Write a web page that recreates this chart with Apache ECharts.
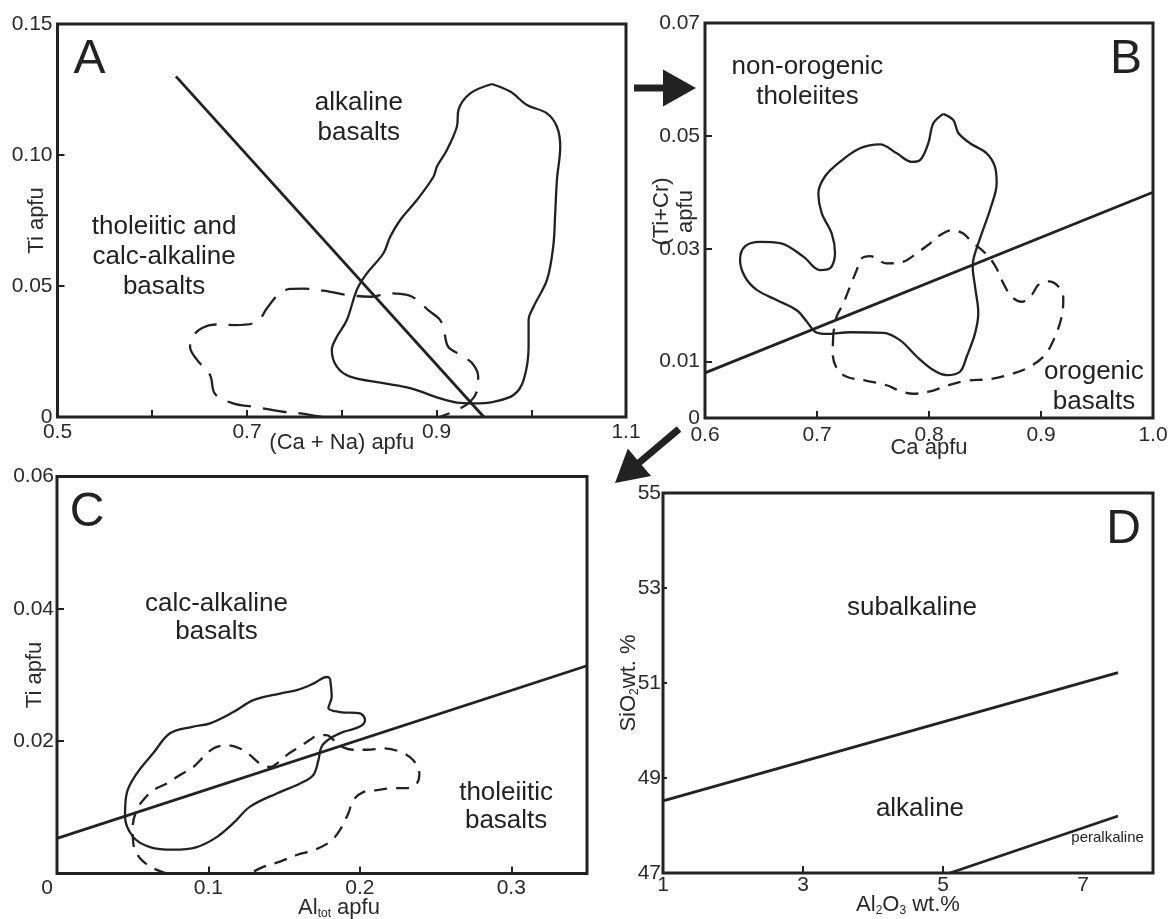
<!DOCTYPE html>
<html><head><meta charset="utf-8">
<script src="https://cdn.jsdelivr.net/npm/echarts@6/dist/echarts.min.js"></script>
<style>html,body{margin:0;padding:0;background:#fff}#c{width:1170px;height:919px}</style>
</head><body><div id="c"></div>
<script>
// ---------- Axis ticks and labels ----------
const A_X_TICKS=[0.6,0.7,0.8,0.9,1.0], A_X_LABELS=[0.5,0.7,0.9,1.1];
const A_Y_TICKS=[0.05,0.10], A_Y_LABELS=[0,0.05,0.10,0.15];
const B_X_TICKS=[0.7,0.8,0.9], B_X_LABELS=[0.6,0.7,0.8,0.9,1.0];
const B_Y_TICKS=[0.01,0.03,0.05], B_Y_LABELS=[0,0.01,0.03,0.05,0.07];
const C_X_TICKS=[0.1,0.2,0.3], C_X_LABELS=[0,0.1,0.2,0.3];
const C_Y_TICKS=[0.02,0.04], C_Y_LABELS=[0.02,0.04,0.06];
const D_X_TICKS=[3,5], D_X_LABELS=[1,3,5,7];
const D_Y_TICKS=[49,51,53], D_Y_LABELS=[47,49,51,53,55];

// ---------- Panel A: Ti vs (Ca+Na) ----------
const A_LINE=[[0.625,0.130],[0.950,0]];
const A_SOLID=[[0.9585,0.1271],[0.9778,0.1242],[0.9955,0.1191],[1.0166,0.1159],[1.0271,0.1108],[1.0306,0.1032],[1.0271,0.0905],[1.0253,0.0779],[1.0232,0.0650],[1.0166,0.0523],[1.0024,0.0421],[0.9972,0.0370],[0.9972,0.0268],[0.9919,0.0141],[0.9813,0.0084],[0.9602,0.0058],[0.9391,0.0052],[0.9215,0.0055],[0.9039,0.0071],[0.8722,0.0110],[0.8440,0.0129],[0.8088,0.0154],[0.7948,0.0192],[0.7895,0.0256],[0.7948,0.0306],[0.8054,0.0370],[0.8159,0.0485],[0.8265,0.0548],[0.8440,0.0625],[0.8511,0.0688],[0.8617,0.0752],[0.8793,0.0828],[0.8968,0.0917],[0.9004,0.0955],[0.9110,0.1019],[0.9215,0.1108],[0.9232,0.1172],[0.9356,0.1235]];
const A_DASHED=[[0.7793,0],[0.7561,0.0014],[0.7381,0.0020],[0.7064,0.0039],[0.6853,0.0052],[0.6663,0.0088],[0.6610,0.0160],[0.6473,0.0218],[0.6399,0.0267],[0.6431,0.0309],[0.6526,0.0340],[0.6663,0.0353],[0.6874,0.0351],[0.7107,0.0364],[0.7212,0.0416],[0.7328,0.0466],[0.7455,0.0489],[0.7592,0.0490],[0.7877,0.0478],[0.8057,0.0466],[0.8300,0.0459],[0.8511,0.0472],[0.8691,0.0466],[0.8796,0.0447],[0.8912,0.0408],[0.9039,0.0370],[0.9081,0.0324],[0.9124,0.0268],[0.9250,0.0237],[0.9377,0.0205],[0.9440,0.0154],[0.9430,0.0103],[0.9356,0.0058],[0.9219,0.0027],[0.9039,0.0001]];

// ---------- Panel B: (Ti+Cr) vs Ca ----------
const B_LINE=[[0.6,0.008],[1.0,0.040]];
const B_SOLID=[[0.8128,0.0539],[0.8217,0.0528],[0.8262,0.0505],[0.8366,0.0487],[0.8515,0.0469],[0.8589,0.0445],[0.8604,0.0416],[0.8545,0.0369],[0.8471,0.0327],[0.8402,0.0286],[0.8390,0.0268],[0.8411,0.0233],[0.8440,0.0186],[0.8411,0.0150],[0.8337,0.0109],[0.8277,0.0082],[0.8158,0.0076],[0.8038,0.0085],[0.7890,0.0109],[0.7741,0.0138],[0.7592,0.0151],[0.7295,0.0152],[0.7087,0.0149],[0.6982,0.0153],[0.6908,0.0171],[0.6819,0.0191],[0.6640,0.0209],[0.6462,0.0227],[0.6357,0.0250],[0.6313,0.0280],[0.6357,0.0304],[0.6491,0.0312],[0.6670,0.0310],[0.6878,0.0286],[0.7027,0.0262],[0.7116,0.0265],[0.7161,0.0292],[0.7131,0.0327],[0.7042,0.0363],[0.7012,0.0398],[0.7071,0.0428],[0.7205,0.0454],[0.7384,0.0478],[0.7563,0.0485],[0.7712,0.0469],[0.7846,0.0454],[0.7920,0.0457],[0.7994,0.0487],[0.8038,0.0522]];
const B_DASHED=[[0.7146,0.0150],[0.7140,0.0115],[0.7176,0.0088],[0.7265,0.0073],[0.7444,0.0066],[0.7622,0.0058],[0.7741,0.0048],[0.7860,0.0043],[0.8009,0.0047],[0.8158,0.0057],[0.8337,0.0066],[0.8545,0.0069],[0.8738,0.0078],[0.8902,0.0091],[0.9036,0.0112],[0.9125,0.0144],[0.9185,0.0180],[0.9199,0.0212],[0.9155,0.0233],[0.9065,0.0242],[0.8976,0.0236],[0.8917,0.0218],[0.8828,0.0206],[0.8738,0.0215],[0.8663,0.0239],[0.8604,0.0265],[0.8545,0.0283],[0.8471,0.0298],[0.8381,0.0312],[0.8306,0.0327],[0.8203,0.0333],[0.8098,0.0324],[0.7994,0.0307],[0.7890,0.0292],[0.7771,0.0277],[0.7622,0.0274],[0.7473,0.0287],[0.7399,0.0283],[0.7354,0.0262],[0.7295,0.0233],[0.7235,0.0203],[0.7176,0.0180]];

// ---------- Panel C: Ti vs Al_tot ----------
const C_LINE=[[0,0.0053],[0.35,0.0314]];
const C_SOLID=[[0.1803,0.0295],[0.1814,0.0267],[0.1792,0.0250],[0.1869,0.0244],[0.2001,0.0242],[0.2034,0.0232],[0.2001,0.0222],[0.1891,0.0214],[0.1803,0.0204],[0.1748,0.0192],[0.1726,0.0171],[0.1693,0.0149],[0.1605,0.0136],[0.1451,0.0121],[0.1275,0.0101],[0.1164,0.0076],[0.1055,0.0055],[0.0923,0.0040],[0.0768,0.0036],[0.0614,0.0040],[0.0504,0.0055],[0.0449,0.0086],[0.0460,0.0121],[0.0526,0.0151],[0.0636,0.0182],[0.0746,0.0212],[0.0900,0.0222],[0.1011,0.0227],[0.1164,0.0244],[0.1297,0.0262],[0.1473,0.0272],[0.1583,0.0277],[0.1693,0.0287],[0.1781,0.0297]];
const C_DASHED=[[0.0725,0],[0.0636,0.0008],[0.0548,0.0023],[0.0504,0.0045],[0.0500,0.0070],[0.0526,0.0096],[0.0570,0.0111],[0.0636,0.0126],[0.0725,0.0136],[0.0812,0.0149],[0.0900,0.0161],[0.0966,0.0176],[0.1032,0.0189],[0.1121,0.0194],[0.1209,0.0189],[0.1275,0.0179],[0.1341,0.0166],[0.1407,0.0161],[0.1451,0.0166],[0.1517,0.0179],[0.1605,0.0192],[0.1671,0.0202],[0.1726,0.0209],[0.1781,0.0209],[0.1825,0.0202],[0.1869,0.0193],[0.1957,0.0187],[0.2046,0.0187],[0.2155,0.0189],[0.2266,0.0184],[0.2353,0.0171],[0.2393,0.0151],[0.2376,0.0136],[0.2310,0.0129],[0.2221,0.0129],[0.2112,0.0126],[0.2023,0.0123],[0.1957,0.0111],[0.1924,0.0091],[0.1869,0.0066],[0.1803,0.0048],[0.1693,0.0035],[0.1583,0.0028],[0.1473,0.0018],[0.1363,0.0010],[0.1275,0]];

// ---------- Panel D: SiO2 vs Al2O3 ----------
const D_UPPER=[[1,48.52],[7.5,51.22]];
const D_LOWER=[[5.1,47],[7.5,48.2]];

// ---------- Annotations (text at data coordinates) ----------
const A_NOTES=[{text:'alkaline\nbasalts',at:[0.818,0.1141]},{text:'tholeiitic and\ncalc-alkaline\nbasalts',at:[0.6125,0.0611]}];
const B_NOTES=[{text:'non-orogenic\ntholeiites',at:[0.6915,0.0595]},{text:'orogenic\nbasalts',at:[0.9473,0.0055]}];
const C_NOTES=[{text:'calc-alkaline\nbasalts',at:[0.1053,0.0387]},{text:'tholeiitic\nbasalts',at:[0.2966,0.0101]}];
const D_NOTES=[{text:'subalkaline',at:[4.557,52.58]},{text:'alkaline',at:[4.671,48.36]}];
const D_SMALL=[{text:'peralkaline',at:[7.351,47.73]}];
const LETTERS=[{text:'A',g:0,at:[0.5338,0.1364]},{text:'B',g:1,at:[0.9759,0.0634]},{text:'C',g:2,at:[0.0198,0.0545]},{text:'D',g:3,at:[7.58,54.22]}];

// ---------- Styling ----------
const INK='#222222', TEXT='#2a2a2a', NOTE='#222222', FONT='"Liberation Sans", Arial, sans-serif';
const TICK_FS=21, NAME_FS=22;

function xAx(gi,min,max,ticks,labels,fmt,name,nameGap,margin,nameExtra){
  return {gridIndex:gi,type:'value',min,max,
    axisLine:{show:false},splitLine:{show:false},
    axisTick:{show:true,inside:true,length:7,customValues:ticks,lineStyle:{color:INK,width:2}},
    axisLabel:{show:true,customValues:labels,formatter:fmt,margin,fontSize:TICK_FS,color:TEXT,fontFamily:FONT,
      rich:{l:{fontSize:TICK_FS,color:TEXT,fontFamily:FONT,padding:[0,20,0,0]}}},
    name,nameLocation:'middle',nameGap,nameMoveOverlap:false,
    nameTextStyle:Object.assign({fontSize:NAME_FS,color:TEXT,fontFamily:FONT},nameExtra||{})};
}
function yAx(gi,min,max,ticks,labels,fmt,name,nameGap,margin,nameExtra,tickLen){
  return {gridIndex:gi,type:'value',min,max,
    axisLine:{show:false},splitLine:{show:false},
    axisTick:{show:true,inside:true,length:tickLen||7,customValues:ticks,lineStyle:{color:INK,width:2}},
    axisLabel:{show:true,customValues:labels,formatter:fmt,margin,fontSize:TICK_FS,color:TEXT,fontFamily:FONT},
    name,nameLocation:'middle',nameGap,nameRotate:90,nameMoveOverlap:false,
    nameTextStyle:Object.assign({fontSize:NAME_FS,color:TEXT,fontFamily:FONT},nameExtra||{})};
}
const f1=v=>v.toFixed(1), f2=v=>(v===0?'0':v.toFixed(2)), f0=v=>String(Math.round(v));
const fC=v=>(v===0?'{l|0}':v.toFixed(1));
const subRich={n:{fontSize:NAME_FS,color:TEXT,fontFamily:FONT},s:{fontSize:12,color:TEXT,fontFamily:FONT,padding:[12,0,0,0]}};

function path(gi,data,opts){
  const o=opts||{};
  return {type:'line',xAxisIndex:gi,yAxisIndex:gi,data:o.closed?data.concat([data[0]]):data,
    symbol:'none',showSymbol:false,smooth:o.smooth||false,clip:true,silent:true,animation:false,
    lineStyle:{color:INK,width:o.width||2.3,type:o.dash||'solid',cap:'butt'},z:3};
}
function notes(gi,arr,fs,lh){
  return {type:'scatter',xAxisIndex:gi,yAxisIndex:gi,symbolSize:1,itemStyle:{color:'rgba(0,0,0,0)'},
    silent:true,animation:false,z:6,
    data:arr.map(a=>({name:a.text,value:a.at})),
    label:{show:true,position:'inside',formatter:'{b}',fontSize:fs,lineHeight:lh||fs,color:NOTE,opacity:1,
      textBorderWidth:0,textBorderColor:'transparent',fontFamily:FONT}};
}

// arrows (decorations between panels)
function arrowPts(from,to,head,halfW,shaftW){
  const dx=to[0]-from[0],dy=to[1]-from[1],L=Math.hypot(dx,dy),ux=dx/L,uy=dy/L,px=-uy,py=ux;
  const bx=to[0]-ux*head,by=to[1]-uy*head,s=shaftW/2;
  return [[from[0]+px*s,from[1]+py*s],[bx+px*s,by+py*s],[bx+px*halfW,by+py*halfW],to,
          [bx-px*halfW,by-py*halfW],[bx-px*s,by-py*s],[from[0]-px*s,from[1]-py*s]];
}

const chart=echarts.init(document.getElementById('c'),null,{renderer:'canvas'});
const gridBase={show:true,borderColor:INK,borderWidth:3,backgroundColor:'transparent',containLabel:false,outerBoundsMode:'none'};
const option={
  animation:false,backgroundColor:'#ffffff',
  textStyle:{fontFamily:FONT},
  grid:[
    Object.assign({left:57.5,top:24,width:568.5,height:393},gridBase),
    Object.assign({left:705,top:23,width:448,height:395},gridBase),
    Object.assign({left:57,top:476.5,width:530,height:397},gridBase),
    Object.assign({left:663,top:493,width:490,height:380},gridBase)
  ],
  xAxis:[
    xAx(0,0.5,1.1,A_X_TICKS,A_X_LABELS,f1,'(Ca + Na) apfu',15,5),
    xAx(1,0.6,1.0,B_X_TICKS,B_X_LABELS,f1,'Ca apfu',19,7),
    xAx(2,0,0.35,C_X_TICKS,C_X_LABELS,fC,'{n|Al}{s|tot}{n| apfu}',22,4,{rich:subRich,padding:[0,0,0,34]}),
    xAx(3,1,8,D_X_TICKS,D_X_LABELS,f0,'{n|Al}{s|2}{n|O}{s|3}{n| wt.%}',20,2,{rich:subRich})
  ],
  yAxis:[
    yAx(0,0,0.15,A_Y_TICKS,A_Y_LABELS,f2,'Ti apfu',10,5),
    yAx(1,0,0.07,B_Y_TICKS,B_Y_LABELS,f2,'(Ti+Cr)\napfu',7,5,{lineHeight:24,padding:[0,0,0,18]}),
    yAx(2,0,0.06,C_Y_TICKS,C_Y_LABELS,f2,'Ti apfu',11,3),
    yAx(3,47,55,D_Y_TICKS,D_Y_LABELS,f0,'{n|SiO}{s|2}{n|wt. %}',22,2,{rich:subRich},4)
  ],
  series:[
    path(0,A_LINE,{width:2.8}),
    path(0,A_SOLID,{closed:true,smooth:0.35}),
    path(0,A_DASHED,{smooth:0.35,dash:[24,12]}),
    path(1,B_LINE,{width:2.8}),
    path(1,B_SOLID,{closed:true,smooth:0.35}),
    path(1,B_DASHED,{closed:true,smooth:0.35,dash:[13,9]}),
    path(2,C_LINE,{width:2.8}),
    path(2,C_SOLID,{closed:true,smooth:0.35}),
    path(2,C_DASHED,{smooth:0.35,dash:[13,9]}),
    path(3,D_UPPER,{width:2.8}),
    path(3,D_LOWER,{width:2.8}),
    notes(0,A_NOTES,26,30),
    notes(1,B_NOTES,26,30),
    notes(2,C_NOTES,26,28),
    notes(3,D_NOTES,26,30),
    notes(3,D_SMALL,15,15)
  ].concat([0,1,2,3].map(g=>notes(g,LETTERS.filter(l=>l.g===g),48,48))),
  graphic:[
    {type:'polygon',silent:true,shape:{points:arrowPts([634,88],[696,88],33,18.5,7)},style:{fill:INK}},
    {type:'polygon',silent:true,shape:{points:arrowPts([679,429],[615,483],32,18,7)},style:{fill:INK}}
  ]
};
chart.setOption(option);
</script></body></html>
